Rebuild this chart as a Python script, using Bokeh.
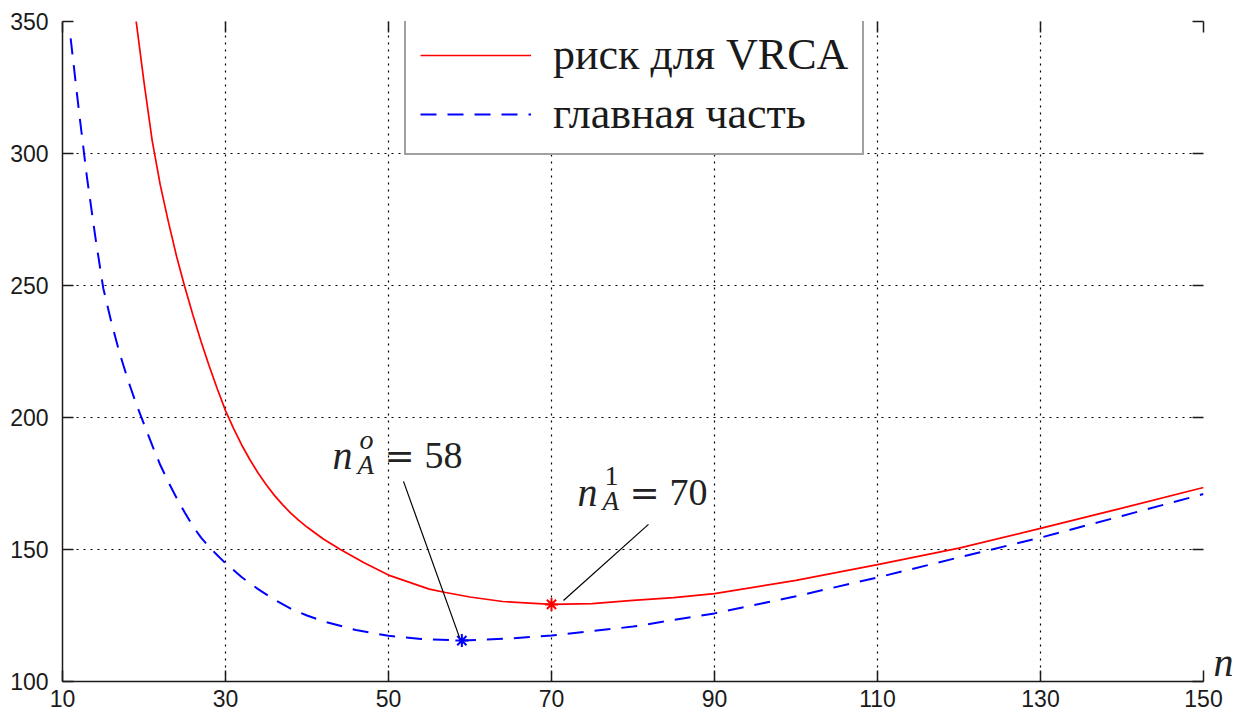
from bokeh.plotting import figure
from bokeh.models import Range1d, LinearAxis, FixedTicker, Legend, LegendItem, Label
from bokeh.embed import file_html
from bokeh.resources import INLINE

# ---------------- data ----------------
risk_n = [18, 19, 20, 21, 22, 23, 24, 25, 26, 27, 28, 29, 30, 31, 32, 33, 34, 35, 36, 37, 38,
          39, 40, 42, 44, 47, 50, 55, 57, 60, 64, 70, 75, 80, 85, 90, 100, 110, 120, 130, 140, 150]
risk_v = [377, 351, 327, 305, 288, 274, 261, 249.5, 238.8, 228.8, 219.5, 210.8, 202.6, 195.8,
          189.5, 184, 179, 174.5, 170.5, 167, 163.8, 161, 158.5, 154, 150.2, 145, 140.3, 135,
          133.7, 132, 130.3, 129.2, 129.5, 130.7, 131.8, 133.3, 138.3, 144.3, 150.5, 158, 165.7, 173.5]

main_n = [11, 12, 13, 14, 15, 16, 17, 18, 19, 20, 21, 22, 23, 24, 25, 26, 27, 28, 29, 30, 32,
          34, 36, 38, 40, 42, 46, 50, 54, 59, 65, 70, 80, 90, 100, 110, 120, 130, 140, 150]
main_v = [343.6, 316.5, 291, 269, 249, 236, 224.5, 214.5, 205.5, 197.5, 189.5, 182, 175.5,
          169.5, 164, 158.8, 154.5, 151, 147.8, 144.8, 139.5, 135, 131, 127.6, 125, 122.8, 119.5,
          117.3, 116.1, 115.5, 116.3, 117.4, 120.8, 125.8, 132.3, 139.4, 147, 154.5, 162.7, 171]

risk_opt_n, risk_opt_v = [70], [129.2]
main_opt_n, main_opt_v = [59], [115.5]

x_ticks = [10, 30, 50, 70, 90, 110, 130, 150]
y_ticks = [100, 150, 200, 250, 300, 350]

legend_labels = ["риск для VRCA", "главная часть"]

# annotation anchors (data coordinates)
ann_main_text = (43.13, 180.3)
ann_risk_text = (73.19, 166.3)
ann_main_line_n, ann_main_line_v = [51.84, 58.71], [175.8, 116.7]
ann_risk_line_n, ann_risk_line_v = [81.90, 71.47], [159.5, 130.7]

# ---------------- figure ----------------
W, H = 1237, 715
p = figure(width=W, height=H, output_backend="svg", toolbar_location=None,
           x_range=Range1d(10, 150), y_range=Range1d(100, 350),
           min_border_left=62, min_border_top=21, min_border_right=34, min_border_bottom=34)
p.outline_line_color = None
p.background_fill_color = "white"
p.border_fill_color = "white"

for ax, ticks in ((p.xaxis[0], x_ticks), (p.yaxis[0], y_ticks)):
    ax.ticker = FixedTicker(ticks=ticks)
    ax.axis_line_color = "#1a1a1a"
    ax.axis_line_width = 1.5
    ax.major_tick_in = 11
    ax.major_tick_out = 0
    ax.major_tick_line_color = "#1a1a1a"
    ax.major_tick_line_width = 1.5
    ax.minor_tick_line_color = None
    ax.major_label_text_font = "Liberation Sans"
    ax.major_label_text_font_size = "23px"
    ax.major_label_text_color = "#1a1a1a"
p.yaxis[0].major_label_standoff = 14
p.xaxis[0].major_label_standoff = 8

# tick-only top / right axes (box ticks, no line, no labels)
def tick_only_axis(ticks):
    return LinearAxis(ticker=FixedTicker(ticks=ticks), axis_line_color=None,
                      major_tick_in=11, major_tick_out=0, major_tick_line_color="#1a1a1a",
                      major_tick_line_width=1.5, minor_tick_line_color=None,
                      major_label_text_color=None, major_label_text_font_size="1px",
                      major_label_standoff=0)
p.add_layout(tick_only_axis(x_ticks), "above")
p.add_layout(tick_only_axis(y_ticks), "right")

for g in (p.xgrid[0], p.ygrid[0]):
    g.grid_line_color = "black"
    g.grid_line_dash = "2 5"
    g.grid_line_width = 1.2
p.xgrid[0].ticker = FixedTicker(ticks=x_ticks)
p.ygrid[0].ticker = FixedTicker(ticks=y_ticks)

# ---------------- curves ----------------
r_risk = p.line(risk_n, risk_v, line_color="#ff0000", line_width=1.7)
r_main = p.line(main_n, main_v, line_color="#0000ff", line_width=2, line_dash="16 11")

p.scatter(risk_opt_n, risk_opt_v, marker="asterisk", size=13, line_color="#ff0000", line_width=2)
p.scatter(main_opt_n, main_opt_v, marker="asterisk", size=13, line_color="#0000ff", line_width=2)

p.line(ann_main_line_n, ann_main_line_v, line_color="black", line_width=1.2)
p.line(ann_risk_line_n, ann_risk_line_v, line_color="black", line_width=1.2)

# ---------------- annotation texts ----------------
LIFT = 14  # baseline correction (px)

def math_label(anchor, sup, value_txt):
    x, y = anchor
    common = dict(x=x, y=y, x_units="data", y_units="data", text_color="#222222",
                  text_baseline="alphabetic", text_align="left")
    p.add_layout(Label(text="n", text_font="Liberation Serif", text_font_style="italic",
                       text_font_size="40px", y_offset=LIFT, **common))
    p.add_layout(Label(text=sup, text_font="Liberation Serif",
                       text_font_style="italic" if sup == "o" else "normal",
                       text_font_size="28px", x_offset=27, y_offset=16 + LIFT, **common))
    p.add_layout(Label(text="A", text_font="Liberation Serif", text_font_style="italic",
                       text_font_size="27px", x_offset=25, y_offset=-9 + LIFT, **common))
    p.add_layout(Label(text="=", text_font="DejaVu Serif", text_font_size="36px",
                       x_offset=52, y_offset=LIFT, **common))
    p.add_layout(Label(text=value_txt, text_font="Liberation Serif", text_font_size="38px",
                       x_offset=92, y_offset=LIFT, **common))

math_label(ann_main_text, "o", "58")
math_label(ann_risk_text, "1", "70")

# axis name "n" at the end of the x axis (side panel so it is not clipped to the frame)
p.add_layout(Label(x=150, y=100, x_units="data", y_units="data", text="n",
                   text_font="Liberation Serif", text_font_style="italic", text_font_size="40px",
                   text_color="#222222", x_offset=10, y_offset=6 + 13, text_baseline="alphabetic"),
             "right")

# ---------------- legend ----------------
legend = Legend(items=[LegendItem(label=legend_labels[0], renderers=[r_risk]),
                       LegendItem(label=legend_labels[1], renderers=[r_main])],
                location=(342, 526), orientation="vertical",
                glyph_width=111, glyph_height=50, label_height=50, spacing=8, padding=14,
                label_standoff=22, margin=0,
                label_text_font="Liberation Serif", label_text_font_size="44px",
                label_text_color="#1a1a1a",
                border_line_color="#444444", border_line_width=2.5,
                background_fill_color="white", background_fill_alpha=1.0)
p.add_layout(legend, "center")

open("out.html", "w").write(file_html(p, INLINE))
